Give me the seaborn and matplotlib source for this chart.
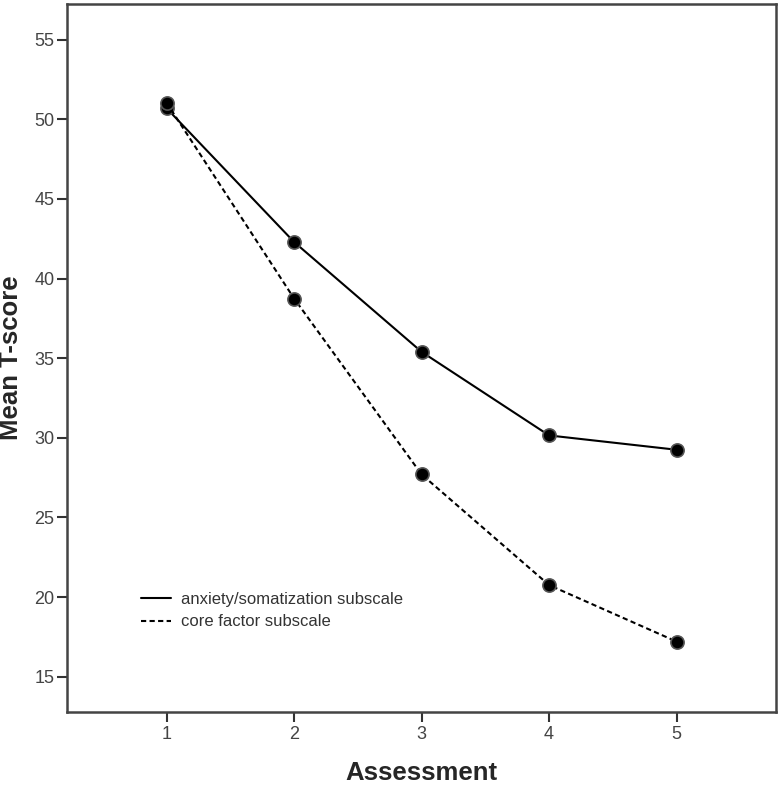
import pandas as pd
import matplotlib
matplotlib.use("Agg")
import matplotlib.pyplot as plt
import seaborn as sns

# data
assessment = [1, 2, 3, 4, 5]
anxiety = [50.7, 42.3, 35.4, 30.15, 29.25]
core = [51.05, 38.75, 27.7, 20.75, 17.2]
series_names = ["anxiety/somatization subscale", "core factor subscale"]
y_ticks = [15, 20, 25, 30, 35, 40, 45, 50, 55]

df = pd.DataFrame({
    "Assessment": assessment * 2,
    "score": anxiety + core,
    "series": [series_names[0]] * 5 + [series_names[1]] * 5,
})

sns.set_style("white")
plt.rcParams["font.family"] = ["Liberation Sans", "DejaVu Sans"]

fig = plt.figure(figsize=(7.8, 7.89), dpi=100)
ax = fig.add_axes([0.086, 0.098, 0.909, 0.897])

sns.lineplot(data=df, x="Assessment", y="score", style="series",
             dashes={series_names[0]: "", series_names[1]: (2.5, 1.6)},
             color="black", lw=1.5, marker="o", markersize=9.5,
             markerfacecolor="black", markeredgecolor="#555555",
             markeredgewidth=1.2, ax=ax)

ax.set_xlim(0.22, 5.78)
ax.set_ylim(12.8, 57.25)
ax.set_xticks(assessment)
ax.set_yticks(y_ticks)
ax.tick_params(axis="both", bottom=True, left=True, direction="out",
               length=7.5, width=1.5, color="#333333", labelsize=13,
               labelcolor="#444444", pad=1.5)
ax.tick_params(axis="x", pad=3)

for s in ax.spines.values():
    s.set_color("#444444")
    s.set_linewidth(1.8)

ax.set_xlabel("Assessment", fontsize=18.5, fontweight="bold")
ax.set_ylabel("Mean T-score", fontsize=18.5, fontweight="bold")
ax.xaxis.set_label_coords(0.5, -0.07)
ax.yaxis.set_label_coords(-0.079, 0.5)
ax.yaxis.label.set_va("center")

leg = ax.legend(loc="lower left", bbox_to_anchor=(0.083, 0.095), frameon=False,
                fontsize=12, handlelength=1.8, handletextpad=0.6,
                labelspacing=0.45)
for h in leg.get_lines():
    h.set_marker("")
for t in leg.get_texts():
    t.set_color("#333333")

fig.savefig("out.png", dpi=100)
